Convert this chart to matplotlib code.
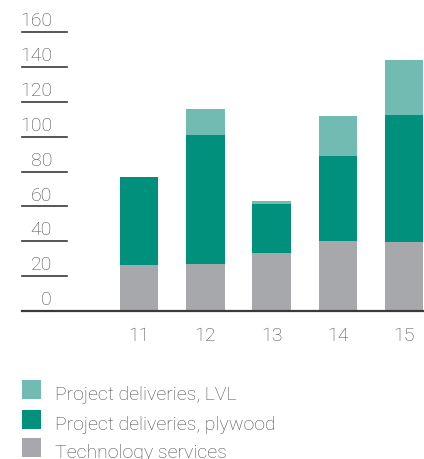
import matplotlib
matplotlib.use("Agg")
import matplotlib.pyplot as plt
import matplotlib.transforms as mtransforms
from matplotlib.patches import Rectangle

years = ["11", "12", "13", "14", "15"]
tech_services = [26.4, 26.9, 33.2, 40.1, 39.5]
plywood = [50.4, 74.0, 28.1, 48.7, 72.8]
lvl = [0.0, 14.9, 1.7, 22.9, 31.5]

legend_labels = ["Project deliveries, LVL", "Project deliveries, plywood", "Technology services"]
yticks = [0, 20, 40, 60, 80, 100, 120, 140, 160]

c_lvl = "#72bbb2"
c_ply = "#00907c"
c_tech = "#a7a8ab"
txt = "#4d4d4d"
line_c = "#3a3a3a"

W, H = 424, 460
plt.rcParams["font.family"] = ["Roboto", "DejaVu Sans"]

fig = plt.figure(figsize=(W / 100, H / 100), dpi=100)
# axes box in pixels: left 22, right 424, baseline 312, 160-line at 33
ax = fig.add_axes([22 / W, (H - 312) / H, (424 - 22) / W, (312 - 33) / H])

x = list(range(len(years)))
bw = 0.58
ax.bar(x, tech_services, width=bw, color=c_tech, label=legend_labels[2])
ax.bar(x, plywood, width=bw, bottom=tech_services, color=c_ply, label=legend_labels[1])
bot2 = [a + b for a, b in zip(tech_services, plywood)]
ax.bar(x, lvl, width=bw, bottom=bot2, color=c_lvl, label=legend_labels[0])

ax.set_xlim(-1.766, 4.30)
ax.set_ylim(0, 160)
for s in ax.spines.values():
    s.set_visible(False)
ax.set_yticks([])
ax.set_xticks(x)
ax.set_xticklabels(years, fontsize=14, color=txt, fontweight="light")
ax.tick_params(axis="x", length=0, pad=11)

# baseline
ax.axhline(0, color=line_c, lw=1.6, zorder=5, clip_on=False)

# y tick lines with labels sitting above them
blend = mtransforms.blended_transform_factory(ax.transAxes, ax.transData)
x_end = (67 - 22) / (424 - 22)
x_lab = (52 - 22) / (424 - 22)
for v in yticks:
    if v > 0:
        ax.plot([0, x_end], [v, v], transform=blend, color=line_c, lw=1.2, clip_on=False)
    ax.annotate(str(v), xy=(x_lab, v), xycoords=blend, xytext=(0, 2),
                textcoords="offset points", ha="right", va="bottom",
                fontsize=14, color=txt, fontweight="light", annotation_clip=False)

# legend below
leg_colors = [c_lvl, c_ply, c_tech]
sq_bottom = [400, 430, 458]
for lab, col, yb in zip(legend_labels, leg_colors, sq_bottom):
    fig.add_artist(Rectangle((22 / W, (H - yb) / H), 19 / W, 19 / H,
                             transform=fig.transFigure, color=col, lw=0))
    fig.text(55 / W, (H - yb) / H, lab, ha="left", va="baseline",
             fontsize=14, color=txt, fontweight="light")

fig.savefig("out.png", dpi=100)
